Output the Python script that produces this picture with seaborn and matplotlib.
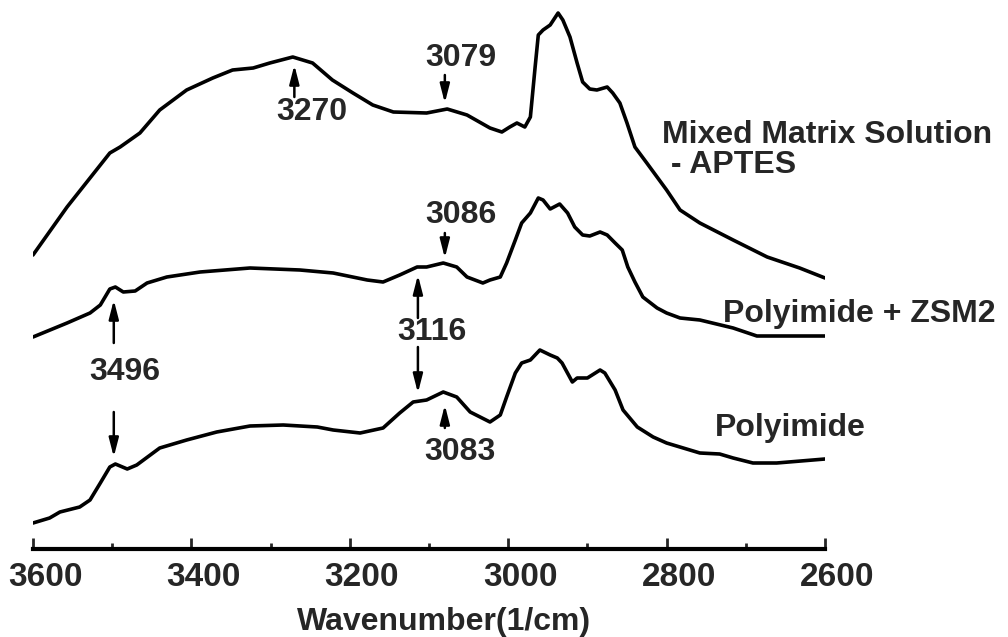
import seaborn as sns
import matplotlib.pyplot as plt
import matplotlib.transforms as mtransforms
from matplotlib.ticker import MultipleLocator

# Espectros FTIR (intensidad en unidades arbitrarias, desplazadas)

wn_mixed = [3600, 3557, 3503, 3490, 3465, 3440, 3406, 3373, 3348, 3322, 3301, 3272,
            3247, 3222, 3196, 3171, 3145, 3103, 3077, 3052, 3023, 3008, 2998, 2989,
            2979, 2972, 2966, 2962, 2956, 2947, 2937, 2931, 2922, 2913, 2906, 2897,
            2888, 2875, 2868, 2859, 2850, 2840, 2825, 2800, 2783, 2758, 2716, 2673,
            2632, 2600]
int_mixed = [294, 342, 396, 402, 416, 439, 459, 471, 479, 481, 486, 492,
             486, 469, 456, 444, 437, 436, 440, 434, 421, 417, 422, 426,
             422, 432, 482, 514, 519, 524, 536, 529, 512, 486, 467, 460,
             459, 462, 456, 446, 426, 402, 386, 359, 339, 326, 309, 292,
             281, 271]

wn_zsm = [3600, 3557, 3528, 3515, 3503, 3496, 3486, 3471, 3456, 3431, 3389, 3326,
          3263, 3221, 3178, 3158, 3137, 3115, 3103, 3082, 3065, 3052, 3032, 3023,
          3010, 3002, 2991, 2983, 2972, 2962, 2956, 2947, 2935, 2925, 2916, 2906,
          2897, 2884, 2875, 2865, 2856, 2849, 2840, 2830, 2812, 2800, 2783, 2758,
          2716, 2686, 2600]
int_zsm = [212, 226, 236, 244, 260, 262, 257, 258, 266, 272, 277, 281,
           279, 276, 269, 267, 274, 282, 282, 286, 282, 272, 266, 269,
           272, 286, 309, 326, 336, 351, 349, 340, 345, 336, 322, 314,
           313, 317, 314, 306, 299, 282, 267, 252, 241, 236, 231, 229,
           221, 213, 213]

wn_pi = [3600, 3579, 3566, 3541, 3528, 3515, 3503, 3496, 3481, 3469, 3440, 3406,
         3368, 3326, 3284, 3241, 3221, 3187, 3158, 3137, 3120, 3103, 3082, 3065,
         3048, 3023, 3010, 3002, 2991, 2983, 2972, 2960, 2947, 2938, 2932, 2919,
         2913, 2900, 2884, 2878, 2865, 2855, 2837, 2817, 2800, 2758, 2733, 2716,
         2691, 2661, 2600]
int_pi = [26, 31, 37, 42, 49, 66, 82, 85, 80, 84, 101, 109,
          117, 123, 124, 122, 119, 116, 121, 136, 147, 149, 157, 152,
          137, 127, 134, 152, 176, 186, 189, 199, 194, 191, 186, 167,
          171, 171, 179, 176, 159, 139, 122, 112, 106, 96, 95, 91,
          86, 86, 90]

# Picos marcados: etiqueta y posición del texto; flechas: x, y cola, y punta
peak_labels = ["3270", "3079", "3086", "3116", "3496", "3083"]
peak_text_x = [3248, 3060, 3060, 3096, 3484, 3061]
peak_text_y = [437, 491, 334, 217, 177, 97]
arrow_x = [3270, 3080, 3080, 3114, 3114, 3498, 3498, 3080]
arrow_tail = [452, 474, 316, 231, 202, 206, 137, 121]
arrow_head = [484, 446, 291, 274, 156, 249, 92, 144]

curve_labels = ["Mixed Matrix Solution\n - APTES", "Polyimide + ZSM2", "Polyimide"]
curve_label_x = [2806, 2729, 2739]
curve_label_y = [399, 235, 121]

sns.set_style("white")
plt.rcParams["font.family"] = ["Liberation Sans", "DejaVu Sans"]
plt.rcParams["font.weight"] = "bold"
plt.rcParams["axes.labelweight"] = "bold"

fig = plt.figure(figsize=(10.08, 6.37), dpi=100)
ax = fig.add_axes([33 / 1008, 88 / 637, 792 / 1008, 549 / 637])

for wn, inten in [(wn_mixed, int_mixed), (wn_zsm, int_zsm), (wn_pi, int_pi)]:
    sns.lineplot(x=wn, y=inten, sort=False, color="black", linewidth=2.6, ax=ax,
                 solid_joinstyle="round", solid_capstyle="round")

for xa, yt, yh in zip(arrow_x, arrow_tail, arrow_head):
    ax.annotate("", xy=(xa, yh), xytext=(xa, yt),
                arrowprops=dict(arrowstyle="-|>,head_width=0.18,head_length=0.7",
                                color="black", lw=1.8, shrinkA=0, shrinkB=0,
                                mutation_scale=16))

for lab, tx, ty in zip(peak_labels, peak_text_x, peak_text_y):
    ax.text(tx, ty, lab, fontsize=23, ha="center", va="center")

for lab, tx, ty in zip(curve_labels, curve_label_x, curve_label_y):
    ax.text(tx, ty, lab, fontsize=23, ha="left", va="center",
            linespacing=1.0, clip_on=False)

ax.set_xlim(3600, 2600)
ax.set_ylim(0, 549)
ax.xaxis.set_major_locator(MultipleLocator(200))
ax.xaxis.set_minor_locator(MultipleLocator(100))
ax.tick_params(axis="x", which="major", direction="in", length=8, width=2,
               labelsize=24, pad=9, bottom=True)
ax.tick_params(axis="x", which="minor", direction="in", length=4, width=2, bottom=True)
shift = mtransforms.ScaledTranslation(12 / 100, 0, fig.dpi_scale_trans)
for lbl in ax.get_xticklabels():
    lbl.set_transform(lbl.get_transform() + shift)
ax.set_yticks([])
for side in ["top", "left", "right"]:
    ax.spines[side].set_visible(False)
ax.spines["bottom"].set_linewidth(3)
ax.spines["bottom"].set_color("black")
ax.set_xlabel("Wavenumber(1/cm)", fontsize=23, fontweight="bold")
ax.xaxis.set_label_coords(0.519, -0.106)
ax.set_ylabel("")
ax.patch.set_alpha(0)

plt.savefig("out.png", dpi=100)
plt.close()
